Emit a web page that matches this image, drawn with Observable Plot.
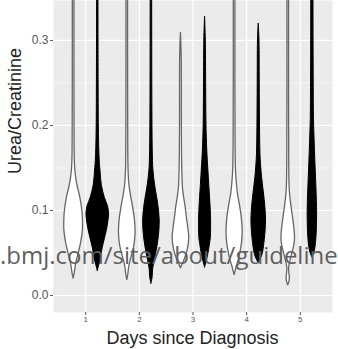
<!DOCTYPE html>
<html>
<head>
<meta charset="utf-8">
<script src="https://cdn.jsdelivr.net/npm/d3@7"></script>
<script src="https://cdn.jsdelivr.net/npm/@observablehq/plot@0.6"></script>
<style>
  html, body { margin: 0; padding: 0; background: #fff; }
  #chart { position: relative; width: 338px; height: 349px; overflow: hidden; }
</style>
</head>
<body>
<div id="chart"></div>
<script>
// ---- data: [Urea/Creatinine value, violin half-width in day units]
const days = [1, 2, 3, 4, 5];
const yTicks = [0, 0.1, 0.2, 0.3];
const yMinor = [0.05, 0.15, 0.25];
const xTitle = "Days since Diagnosis";
const yTitle = "Urea/Creatinine";
const watermark = ".bmj.com/site/about/guideline";

const d1White = [[0.02,0],[0.026,0.02],[0.038,0.05],[0.049,0.093],[0.062,0.14],[0.076,0.172],[0.088,0.174],[0.098,0.165],[0.115,0.125],[0.13,0.07],[0.145,0.035],[0.16,0.022],[0.2,0.017],[0.3,0.015],[0.37,0.015]];
const d1Black = [[0.029,0],[0.035,0.025],[0.041,0.05],[0.056,0.093],[0.076,0.168],[0.088,0.2],[0.096,0.211],[0.105,0.19],[0.115,0.131],[0.13,0.075],[0.147,0.05],[0.16,0.035],[0.19,0.022],[0.25,0.016],[0.37,0.013]];
const d2White = [[0.018,0],[0.025,0.02],[0.033,0.035],[0.041,0.062],[0.056,0.125],[0.068,0.15],[0.076,0.155],[0.085,0.148],[0.092,0.136],[0.105,0.105],[0.115,0.075],[0.13,0.04],[0.147,0.024],[0.2,0.017],[0.3,0.015],[0.37,0.015]];
const d2Black = [[0.014,0],[0.02,0.02],[0.033,0.037],[0.049,0.088],[0.068,0.136],[0.088,0.155],[0.108,0.125],[0.127,0.075],[0.147,0.037],[0.17,0.025],[0.22,0.018],[0.3,0.015],[0.37,0.014]];
const d3White = [[0.032,0],[0.036,0.025],[0.041,0.062],[0.053,0.125],[0.068,0.155],[0.08,0.136],[0.092,0.11],[0.104,0.088],[0.115,0.06],[0.127,0.037],[0.15,0.024],[0.2,0.017],[0.28,0.014],[0.309,0]];
const d3Black = [[0.033,0],[0.04,0.03],[0.049,0.062],[0.06,0.09],[0.068,0.107],[0.088,0.112],[0.1,0.106],[0.115,0.093],[0.13,0.078],[0.147,0.062],[0.165,0.045],[0.186,0.032],[0.206,0.025],[0.25,0.02],[0.3,0.014],[0.328,0]];
const d4White = [[0.024,0],[0.03,0.025],[0.035,0.045],[0.041,0.075],[0.056,0.125],[0.066,0.145],[0.076,0.15],[0.086,0.142],[0.096,0.125],[0.108,0.095],[0.12,0.062],[0.135,0.038],[0.147,0.026],[0.18,0.018],[0.25,0.015],[0.37,0.015]];
const d4Black = [[0.038,0],[0.042,0.035],[0.049,0.075],[0.065,0.112],[0.078,0.13],[0.088,0.136],[0.1,0.128],[0.112,0.112],[0.125,0.088],[0.139,0.062],[0.152,0.045],[0.167,0.032],[0.2,0.024],[0.25,0.019],[0.3,0.014],[0.32,0]];
const d5White = [[0.012,0],[0.016,0.022],[0.021,0.03],[0.027,0.02],[0.032,0.016],[0.038,0.032],[0.049,0.075],[0.058,0.11],[0.065,0.125],[0.072,0.124],[0.08,0.112],[0.092,0.088],[0.104,0.062],[0.115,0.04],[0.127,0.026],[0.16,0.018],[0.25,0.015],[0.37,0.015]];
const d5Black = [[0.045,0],[0.05,0.035],[0.056,0.056],[0.065,0.072],[0.073,0.08],[0.085,0.086],[0.096,0.088],[0.11,0.084],[0.127,0.075],[0.147,0.062],[0.167,0.05],[0.19,0.038],[0.206,0.03],[0.25,0.025],[0.3,0.022],[0.37,0.02]];

const whiteProfiles = [d1White, d2White, d3White, d4White, d5White];
const blackProfiles = [d1Black, d2Black, d3Black, d4Black, d5Black];

// ---- build violin tables (dodged +-0.225 like ggplot's default dodge)
function table(profiles, offset, tag) {
  return profiles.flatMap((prof, i) =>
    prof.map(([y, w]) => ({id: tag + days[i], y, x1: days[i] + offset - w, x2: days[i] + offset + w})));
}
const whiteData = table(whiteProfiles, -0.225, "w");
const blackData = table(blackProfiles, 0.225, "b");

const plot = Plot.plot({
  width: 338,
  height: 349,
  marginLeft: 53,
  marginRight: 6,
  marginTop: 0,
  marginBottom: 37,
  style: {fontFamily: "Liberation Sans, Arial, sans-serif", background: "white", overflow: "visible"},
  x: {domain: [0.4, 5.6]},
  y: {domain: [-0.02, 0.347]},
  marks: [
    Plot.frame({fill: "#ebebeb", stroke: null}),
    Plot.ruleY(yMinor, {stroke: "white", strokeWidth: 0.6}),
    Plot.ruleY(yTicks, {stroke: "white", strokeWidth: 1.2}),
    Plot.ruleX(days, {stroke: "white", strokeWidth: 1.2}),
    Plot.areaX(whiteData, {y: "y", x1: "x1", x2: "x2", z: "id", fill: "white", stroke: "#666", strokeWidth: 1.3, curve: "catmull-rom", clip: true}),
    Plot.areaX(blackData, {y: "y", x1: "x1", x2: "x2", z: "id", fill: "black", stroke: "black", strokeWidth: 1, curve: "catmull-rom", clip: true}),
    Plot.axisY({ticks: yTicks, tickFormat: d3.format(".1f"), tickSize: 3, tickPadding: 2, fontSize: 12, color: "#555", label: null}),
    Plot.axisX({ticks: days, tickFormat: d => String(d), tickSize: 3, tickPadding: 1, fontSize: 8, color: "#555", label: null})
  ]
});

document.getElementById("chart").appendChild(plot);
const svg = d3.select(plot);

// axis titles (real text)
svg.append("text")
  .attr("transform", "translate(21,111) rotate(-90)")
  .attr("text-anchor", "middle")
  .attr("font-size", 18)
  .attr("fill", "#222")
  .text(yTitle);
svg.append("text")
  .attr("x", 192.5)
  .attr("y", 344)
  .attr("text-anchor", "middle")
  .attr("font-size", 18)
  .attr("fill", "#222")
  .text(xTitle);

// watermark overlay (real text)
svg.append("text")
  .attr("x", 0)
  .attr("y", 264)
  .attr("text-anchor", "start")
  .attr("font-family", "Open Sans, sans-serif")
  .attr("font-size", 24)
  .attr("fill", "#5f5f5f")
  .text(watermark);
</script>
</body>
</html>
